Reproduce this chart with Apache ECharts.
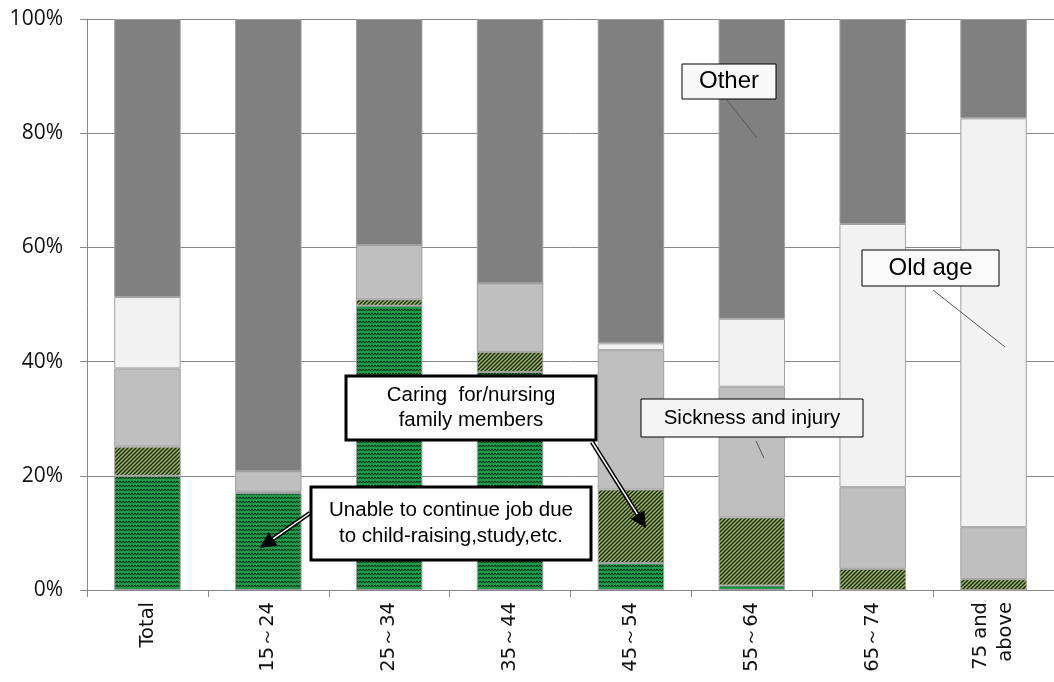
<!DOCTYPE html>
<html>
<head>
<meta charset="utf-8">
<script src="https://cdn.jsdelivr.net/npm/echarts@6/dist/echarts.min.js"></script>
<style>
html,body{margin:0;padding:0;background:#fff;}
#chart{width:1054px;height:682px;}
</style>
</head>
<body>
<div id="chart"></div>
<script>
// ---- data ----
var categories = ['Total', '15～24', '25～34', '35～44', '45～54', '55～64', '65～74', '75 and\nabove'];
var childRaising = [20.0, 17.0, 49.8, 38.2, 4.7, 0.8, 0, 0];
var caring = [5.1, 0.2, 1.1, 3.5, 12.9, 11.9, 3.7, 1.9];
var sickness = [13.7, 3.6, 9.5, 12.0, 24.4, 22.9, 14.3, 9.1];
var oldAge = [12.5, 0, 0, 0, 1.2, 11.9, 46.1, 71.6];
var other = [48.7, 79.2, 39.6, 46.3, 56.8, 52.5, 35.9, 17.4];
var yTicks = [0, 20, 40, 60, 80, 100];

// ---- patterns ----
function zigzag() {
  var c = document.createElement('canvas');
  c.width = 6; c.height = 4;
  var g = c.getContext('2d');
  g.fillStyle = '#1f9a4a'; g.fillRect(0, 0, 6, 4);
  g.strokeStyle = '#0a2a12'; g.lineWidth = 1;
  g.beginPath();
  g.moveTo(0, 1); g.lineTo(1.5, 3); g.lineTo(3, 1); g.lineTo(4.5, 3); g.lineTo(6, 1);
  g.stroke();
  return c;
}
function hatch() {
  var c = document.createElement('canvas');
  c.width = 4; c.height = 4;
  var g = c.getContext('2d');
  g.fillStyle = '#98b85a'; g.fillRect(0, 0, 4, 4);
  g.strokeStyle = '#1a2010'; g.lineWidth = 1.3;
  g.beginPath();
  g.moveTo(-1, 5); g.lineTo(5, -1);
  g.moveTo(-1, 1); g.lineTo(1, -1);
  g.moveTo(3, 5); g.lineTo(5, 3);
  g.stroke();
  return c;
}

var chart = echarts.init(document.getElementById('chart'));
var border = '#a0a0a0';
function mk(name, data, color) {
  return {
    name: name, type: 'bar', stack: 'all', data: data,
    barCategoryGap: '45%',
    itemStyle: { color: color, borderColor: border, borderWidth: 1 },
    emphasis: { disabled: true }
  };
}

function arrowGraphic(x1, y1, x2, y2, opts) {
  var ang = Math.atan2(y2 - y1, x2 - x1);
  var hl = opts.headLen, hw = opts.headW;
  var bx = x2 - hl * Math.cos(ang), by = y2 - hl * Math.sin(ang);
  var px = -Math.sin(ang), py = Math.cos(ang);
  return [
    { type: 'line', shape: { x1: x1, y1: y1, x2: bx, y2: by }, style: { stroke: '#000', lineWidth: opts.w }, z: 100 },
    { type: 'line', shape: { x1: x1, y1: y1, x2: bx, y2: by }, style: { stroke: '#fff', lineWidth: opts.inner }, z: 101 },
    { type: 'polygon', shape: { points: [[x2, y2], [bx + px * hw, by + py * hw], [bx - px * hw, by - py * hw]] }, style: { fill: '#000' }, z: 102 }
  ];
}

function box(x, y, w, h, text, fontSize, lw, fill, lh) {
  return [
    { type: 'rect', shape: { x: x, y: y, width: w, height: h }, style: { fill: fill, stroke: '#000', lineWidth: lw }, z: 110 },
    { type: 'text', x: x + w / 2, y: y + h / 2, style: { text: text, fontFamily: 'Liberation Sans', fontSize: fontSize, fill: '#000', align: 'center', verticalAlign: 'middle', lineHeight: lh || fontSize * 1.25 }, z: 111 }
  ];
}

var graphics = [];
graphics = graphics.concat(
  [{ type: 'line', shape: { x1: 727, y1: 100, x2: 757, y2: 138 }, style: { stroke: '#555', lineWidth: 1 }, z: 100 }],
  box(682, 64, 94, 35, 'Other', 24, 1, '#f8f8f8'),
  [{ type: 'line', shape: { x1: 933, y1: 290, x2: 1005, y2: 347 }, style: { stroke: '#555', lineWidth: 1 }, z: 100 }],
  box(862, 250, 137, 36, 'Old age', 24, 1, '#fafafa'),
  [{ type: 'line', shape: { x1: 756, y1: 441, x2: 764, y2: 458 }, style: { stroke: '#555', lineWidth: 1 }, z: 100 }],
  box(641, 399, 222, 38, 'Sickness and injury', 20.5, 1, '#f4f4f4'),
  arrowGraphic(592, 442, 646, 528, { w: 4.5, inner: 1.5, headLen: 16, headW: 8 }),
  box(346, 376, 250, 64, 'Caring  for/nursing\nfamily members', 20.5, 3, '#fff', 25),
  arrowGraphic(310, 513, 260, 548, { w: 4.5, inner: 1.5, headLen: 16, headW: 8 }),
  box(311, 487, 280, 73, 'Unable to continue job due\nto child-raising,study,etc.', 20.5, 3, '#fff', 26)
);

chart.setOption({
  animation: false,
  backgroundColor: '#fff',
  grid: { left: 87, right: 0, top: 19, bottom: 92, containLabel: false },
  xAxis: {
    type: 'category', data: categories,
    axisLine: { lineStyle: { color: '#888', width: 1 } },
    axisTick: { show: true, length: 7, lineStyle: { color: '#888' }, alignWithLabel: false },
    axisLabel: { rotate: 90, interval: 0, margin: 12, fontFamily: 'DejaVu Sans', fontSize: 19.5, color: '#111', lineHeight: 25 }
  },
  yAxis: {
    type: 'value', min: 0, max: 100, interval: 20,
    axisLine: { show: true, lineStyle: { color: '#888' } },
    axisTick: { show: true, length: 7, inside: false, lineStyle: { color: '#888' } },
    splitLine: { show: true, lineStyle: { color: '#888', width: 1 } },
    axisLabel: {
      margin: 24, fontFamily: 'Open Sans', fontSize: 21, color: '#111',
      formatter: function (v) { return yTicks.indexOf(v) >= 0 ? v + '%' : ''; }
    }
  },
  series: [
    mk('Unable to continue job due to child-raising,study,etc.', childRaising, { image: zigzag(), repeat: 'repeat' }),
    mk('Caring for/nursing family members', caring, { image: hatch(), repeat: 'repeat' }),
    mk('Sickness and injury', sickness, '#bfbfbf'),
    mk('Old age', oldAge, '#f2f2f2'),
    mk('Other', other, '#808080')
  ],
  graphic: graphics
});
</script>
</body>
</html>
